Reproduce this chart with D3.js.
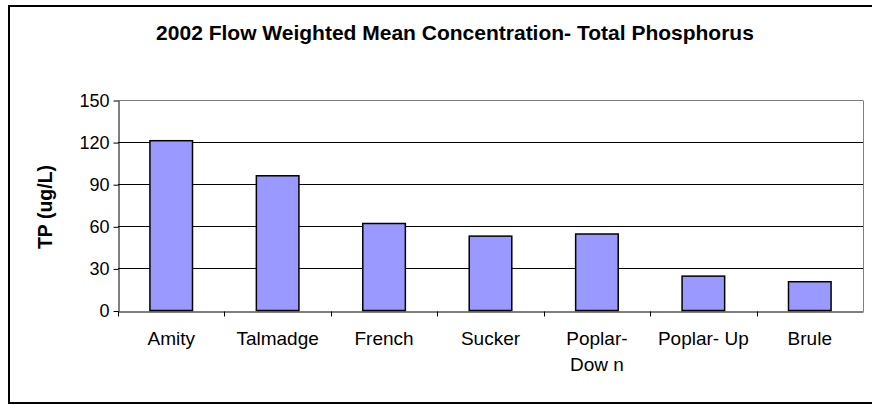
<!DOCTYPE html>
<html>
<head>
<meta charset="utf-8">
<script src="https://cdn.jsdelivr.net/npm/d3@7"></script>
<style>
  html, body { margin: 0; padding: 0; background: #fff; }
  svg { display: block; font-family: Arial, "Liberation Sans", sans-serif; }
</style>
</head>
<body>
<svg id="chart" width="872" height="405"></svg>
<script>
const categories = ["Amity", "Talmadge", "French", "Sucker", "Poplar-\nDow n", "Poplar- Up", "Brule"];
const values = [121, 96, 62, 53, 54.5, 24.5, 20.5];
const yTicks = [0, 30, 60, 90, 120, 150];
const titleText = "2002 Flow Weighted Mean Concentration- Total Phosphorus";
const yLabel = "TP (ug/L)";

const svg = d3.select("#chart");
const margin = { left: 118, right: 863, top: 100, bottom: 310.5 };

// outer chart border
svg.append("rect")
  .attr("x", 9).attr("y", 6).attr("width", 872).attr("height", 397)
  .attr("fill", "#fff").attr("stroke", "#000").attr("stroke-width", 2);

const x = d3.scaleBand().domain(categories).range([margin.left, margin.right]).paddingInner(0.6).paddingOuter(0.3);
const xTickScale = d3.scaleBand().domain(categories).range([margin.left, margin.right]);
const y = d3.scaleLinear().domain([0, 150]).range([margin.bottom, margin.top]);

// gridlines
svg.append("g").selectAll("line").data(yTicks.filter(d => d > 0)).join("line")
  .attr("x1", margin.left).attr("x2", margin.right)
  .attr("y1", d => Math.round(y(d)) + 0.5).attr("y2", d => Math.round(y(d)) + 0.5)
  .attr("stroke", d => d === 150 ? "#808080" : "#000").attr("stroke-width", 1);

// plot area right border
svg.append("line")
  .attr("x1", margin.right + 0.5).attr("x2", margin.right + 0.5)
  .attr("y1", Math.round(y(150)) + 0.5).attr("y2", Math.round(y(0)) + 0.5)
  .attr("stroke", "#808080");

// bars
svg.append("g").selectAll("rect").data(categories).join("rect")
  .attr("x", d => x(d))
  .attr("y", (d, i) => y(values[i]))
  .attr("width", x.bandwidth())
  .attr("height", (d, i) => y(0) - y(values[i]))
  .attr("fill", "#9999FF")
  .attr("stroke", "#000").attr("stroke-width", 1.5);

// y axis
const yAxis = d3.axisLeft(y).tickValues(yTicks).tickSize(5).tickSizeOuter(0);
const gy = svg.append("g").attr("transform", `translate(${margin.left + 0.5},0.5)`).call(yAxis);
gy.select(".domain").attr("stroke", "#000");
gy.selectAll(".tick line").attr("stroke", "#000");
gy.selectAll(".tick text").attr("font-size", 18).attr("fill", "#000").attr("x", -9)
  .attr("font-family", "Arial, 'Liberation Sans', sans-serif");

// x axis
const xAxis = d3.axisBottom(xTickScale).tickSize(0).tickSizeOuter(0);
const gx = svg.append("g").attr("transform", `translate(0,${Math.round(y(0)) + 0.5})`).call(xAxis);
gx.select(".domain").attr("stroke", "#000");
gx.selectAll(".tick text").remove();
// boundary ticks between categories
const bounds = categories.map(c => xTickScale(c)).concat([margin.right]);
gx.selectAll(".bt").data(bounds.slice(0, -1)).join("line")
  .attr("x1", d => Math.round(d) + 0.5).attr("x2", d => Math.round(d) + 0.5)
  .attr("y1", 0).attr("y2", 5).attr("stroke", "#000");

// category labels
const lab = svg.append("g").selectAll("text").data(categories).join("text")
  .attr("x", d => xTickScale(d) + xTickScale.bandwidth() / 2)
  .attr("y", 345)
  .attr("text-anchor", "middle")
  .attr("font-size", 19).attr("fill", "#000");
lab.each(function(d) {
  const parts = d.split("\n");
  const t = d3.select(this);
  parts.forEach((p, i) => {
    t.append("tspan").attr("x", t.attr("x")).attr("dy", i === 0 ? 0 : 26).text(p);
  });
});

// title
svg.append("text").attr("x", 455).attr("y", 40).attr("text-anchor", "middle")
  .attr("font-size", 21).attr("font-weight", "bold").attr("fill", "#000").text(titleText);

// y label
svg.append("text").attr("transform", "translate(52,207) rotate(-90)")
  .attr("text-anchor", "middle").attr("font-size", 19.5).attr("font-weight", "bold")
  .attr("fill", "#000").text(yLabel);
</script>
</body>
</html>
